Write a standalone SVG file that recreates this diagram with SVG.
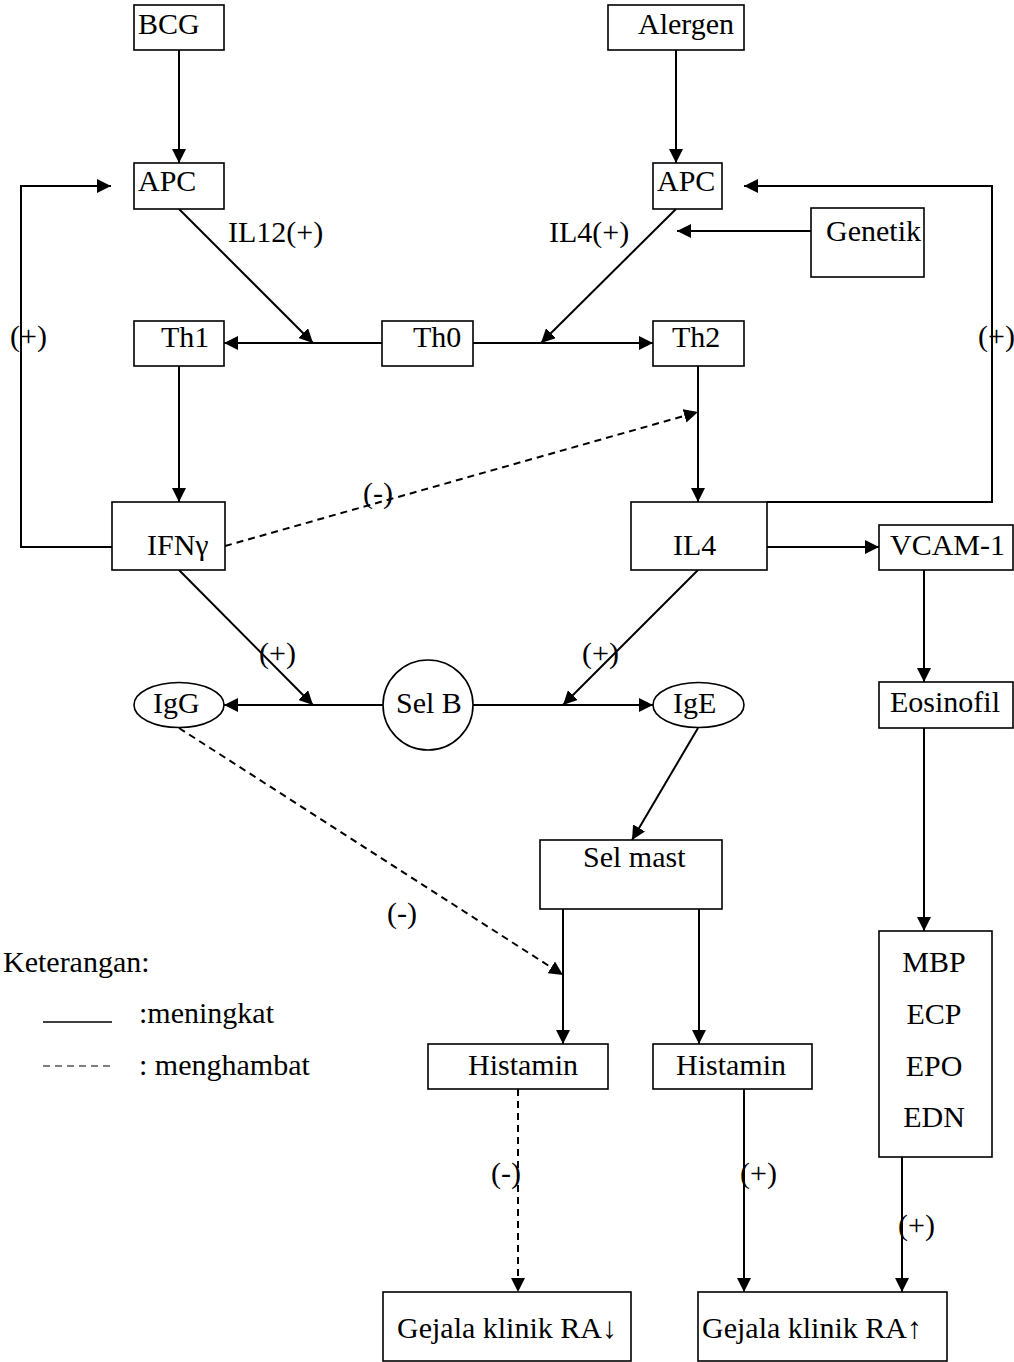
<svg xmlns="http://www.w3.org/2000/svg" width="1014" height="1362" viewBox="0 0 1014 1362">
  <style>
    .box { fill: #fff; stroke: #000; stroke-width: 1.6; }
    .ln { fill: none; stroke: #000; stroke-width: 2; }
    .dash { fill: none; stroke: #000; stroke-width: 2; stroke-dasharray: 7 5; }
    text { font-family: "Liberation Serif", "Times New Roman", serif; font-size: 30px; fill: #000; }
  </style>
  <defs>
    <marker id="arr" viewBox="0 0 14 14" refX="14" refY="7" markerWidth="14" markerHeight="14" markerUnits="userSpaceOnUse" orient="auto">
      <path d="M0,0 L14,7 L0,14 Z" fill="#000"/>
    </marker>
  </defs>

  <rect width="1014" height="1362" fill="#fff"/>

  <!-- connectors -->
  <g id="connectors">
    <line class="ln" x1="179" y1="50" x2="179" y2="163" marker-end="url(#arr)"/>
    <line class="ln" x1="676" y1="50" x2="676" y2="163" marker-end="url(#arr)"/>
    <polyline class="ln" points="112,547 21,547 21,186 111,186" marker-end="url(#arr)"/>
    <polyline class="ln" points="767,502 992,502 992,186 744,186" marker-end="url(#arr)"/>
    <line class="ln" x1="811" y1="231" x2="677" y2="231" marker-end="url(#arr)"/>
    <line class="ln" x1="179" y1="209" x2="313" y2="343" marker-end="url(#arr)"/>
    <line class="ln" x1="676" y1="209" x2="541" y2="343" marker-end="url(#arr)"/>
    <line class="ln" x1="382" y1="343" x2="224" y2="343" marker-end="url(#arr)"/>
    <line class="ln" x1="473" y1="343" x2="653" y2="343" marker-end="url(#arr)"/>
    <line class="ln" x1="179" y1="366" x2="179" y2="502" marker-end="url(#arr)"/>
    <line class="ln" x1="698" y1="366" x2="698" y2="502" marker-end="url(#arr)"/>
    <line class="dash" x1="225" y1="546" x2="698" y2="412" marker-end="url(#arr)"/>
    <line class="ln" x1="767" y1="547" x2="879" y2="547" marker-end="url(#arr)"/>
    <line class="ln" x1="924" y1="570" x2="924" y2="682" marker-end="url(#arr)"/>
    <line class="ln" x1="924" y1="728" x2="924" y2="931" marker-end="url(#arr)"/>
    <line class="ln" x1="179" y1="570" x2="313" y2="705" marker-end="url(#arr)"/>
    <line class="ln" x1="698" y1="570" x2="563" y2="705" marker-end="url(#arr)"/>
    <line class="ln" x1="383" y1="705" x2="224" y2="705" marker-end="url(#arr)"/>
    <line class="ln" x1="473" y1="705" x2="653" y2="705" marker-end="url(#arr)"/>
    <line class="ln" x1="698" y1="728" x2="632" y2="840" marker-end="url(#arr)"/>
    <line class="dash" x1="179" y1="728" x2="563" y2="975" marker-end="url(#arr)"/>
    <line class="ln" x1="563" y1="909" x2="563" y2="1044" marker-end="url(#arr)"/>
    <line class="ln" x1="699" y1="909" x2="699" y2="1044" marker-end="url(#arr)"/>
    <line class="dash" x1="518" y1="1089" x2="518" y2="1292" marker-end="url(#arr)"/>
    <line class="ln" x1="744" y1="1089" x2="744" y2="1292" marker-end="url(#arr)"/>
    <line class="ln" x1="902" y1="1157" x2="902" y2="1292" marker-end="url(#arr)"/>
  </g>

  <!-- connector labels -->
  <g id="labels">
    <text x="228" y="242">IL12(+)</text>
    <text x="549" y="242">IL4(+)</text>
    <text x="10" y="346">(+)</text>
    <text x="978" y="346" font-size="29">(+)</text>
    <text x="363" y="503">(-)</text>
    <text x="259" y="663">(+)</text>
    <text x="582" y="663">(+)</text>
    <text x="387" y="923">(-)</text>
    <text x="491" y="1183">(-)</text>
    <text x="740" y="1183">(+)</text>
    <text x="898" y="1235">(+)</text>
  </g>

  <!-- nodes -->
  <g id="bcg"><rect class="box" x="134" y="5" width="90" height="45"/><text x="138" y="34">BCG</text></g>
  <g id="alergen"><rect class="box" x="608" y="5" width="136" height="45"/><text x="638" y="34">Alergen</text></g>
  <g id="apc-th1"><rect class="box" x="134" y="163" width="90" height="46"/><text x="138" y="191">APC</text></g>
  <g id="apc-th2"><rect class="box" x="653" y="163" width="69" height="46"/><text x="657" y="191">APC</text></g>
  <g id="genetik"><rect class="box" x="811" y="208" width="113" height="69"/><text x="826" y="241">Genetik</text></g>
  <g id="th1"><rect class="box" x="134" y="321" width="90" height="45"/><text x="161" y="347">Th1</text></g>
  <g id="th0"><rect class="box" x="382" y="321" width="91" height="45"/><text x="413" y="347">Th0</text></g>
  <g id="th2"><rect class="box" x="653" y="321" width="91" height="45"/><text x="672" y="347">Th2</text></g>
  <g id="ifng"><rect class="box" x="112" y="502" width="113" height="68"/><text x="147" y="555">IFNγ</text></g>
  <g id="il4"><rect class="box" x="631" y="502" width="136" height="68"/><text x="673" y="555">IL4</text></g>
  <g id="vcam1"><rect class="box" x="879" y="525" width="134" height="45"/><text x="890" y="555">VCAM-1</text></g>
  <g id="eosinofil"><rect class="box" x="879" y="682" width="134" height="46"/><text x="890" y="712">Eosinofil</text></g>
  <g id="igg"><ellipse class="box" cx="179" cy="705" rx="45" ry="22.5"/><text x="153" y="713">IgG</text></g>
  <g id="sel-b"><circle class="box" cx="428" cy="705" r="45"/><text x="396" y="713">Sel B</text></g>
  <g id="ige"><ellipse class="box" cx="698.5" cy="705" rx="45.5" ry="22.5"/><text x="673" y="713">IgE</text></g>
  <g id="sel-mast"><rect class="box" x="540" y="840" width="182" height="69"/><text x="583" y="867">Sel mast</text></g>
  <g id="mediator">
    <rect class="box" x="879" y="931" width="113" height="226"/>
    <text x="934" y="972" text-anchor="middle">MBP</text>
    <text x="934" y="1024" text-anchor="middle">ECP</text>
    <text x="934" y="1076" text-anchor="middle">EPO</text>
    <text x="934" y="1127" text-anchor="middle">EDN</text>
  </g>
  <g id="histamin-l"><rect class="box" x="428" y="1044" width="180" height="45"/><text x="468" y="1075">Histamin</text></g>
  <g id="histamin-r"><rect class="box" x="653" y="1044" width="159" height="45"/><text x="676" y="1075">Histamin</text></g>
  <g id="gejala-turun"><rect class="box" x="383" y="1292" width="248" height="69"/><text x="397" y="1338">Gejala klinik RA↓</text></g>
  <g id="gejala-naik"><rect class="box" x="698" y="1292" width="249" height="69"/><text x="702" y="1338">Gejala klinik RA↑</text></g>

  <!-- legend -->
  <g id="legend">
    <text x="3" y="972">Keterangan:</text>
    <line x1="43" y1="1022" x2="112" y2="1022" stroke="#000" stroke-width="1.6"/>
    <text x="139" y="1023">:meningkat</text>
    <line x1="43" y1="1066" x2="112" y2="1066" stroke="#000" stroke-width="1.2" stroke-dasharray="7 5"/>
    <text x="139" y="1075">: menghambat</text>
  </g>
</svg>
